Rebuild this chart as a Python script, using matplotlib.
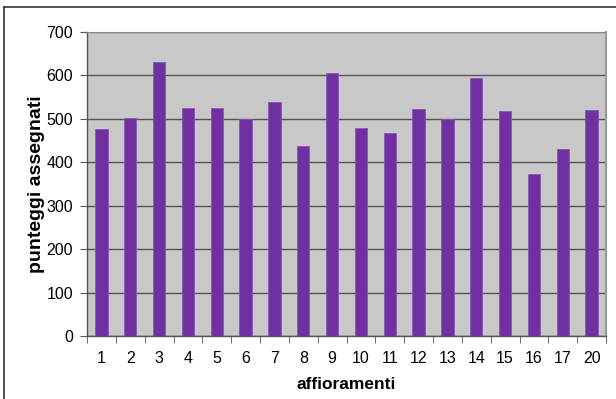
import matplotlib
matplotlib.use("Agg")
import matplotlib.pyplot as plt
import numpy as np
from matplotlib.lines import Line2D

categories = ["1", "2", "3", "4", "5", "6", "7", "8", "9", "10",
              "11", "12", "13", "14", "15", "16", "17", "20"]
values = [476, 502, 632, 524, 525, 500, 538, 438, 605,
          478, 467, 522, 500, 594, 518, 372, 431, 521]
yticks = [0, 100, 200, 300, 400, 500, 600, 700]

plt.rcParams['font.family'] = ['Liberation Sans', 'DejaVu Sans']

fig = plt.figure(figsize=(6.16, 3.99), dpi=100)
fig.patch.set_facecolor("white")

# outer frame lines (left and top)
fig.add_artist(Line2D([4/616, 4/616], [0, 1 - 7/399], transform=fig.transFigure,
                      color="#333333", lw=1.2))
fig.add_artist(Line2D([4/616, 1], [1 - 7/399, 1 - 7/399], transform=fig.transFigure,
                      color="#333333", lw=1.2))

ax = fig.add_axes([87/616, 1 - 336/399, (606 - 87)/616, (336 - 32)/399])
ax.set_facecolor("#C8C8C8")

x = np.arange(len(categories))
ax.bar(x, values, width=0.43, color="#7030A0", edgecolor="#8a55b5", linewidth=0.6, zorder=3)

ax.set_xlim(-0.5, len(categories) - 0.5)
ax.set_ylim(0, 700)
ax.set_yticks(yticks)
ax.set_yticklabels([str(v) for v in yticks], fontsize=11.5)
ax.yaxis.grid(True, color="#555555", linewidth=1.0, zorder=1)
ax.set_axisbelow(True)

ax.set_xticks(x)
ax.set_xticklabels(categories, fontsize=11.5)
ax.tick_params(axis="x", which="major", length=0, pad=11)
ax.set_xticks(np.arange(-0.5, len(categories), 1.0), minor=True)
ax.tick_params(axis="x", which="minor", length=5, direction="out", color="#555555")
ax.tick_params(axis="y", length=5, direction="out", color="#555555", pad=5)

for side in ["left", "bottom"]:
    ax.spines[side].set_color("#555555")
    ax.spines[side].set_linewidth(1.0)
ax.spines["top"].set_color("#888888")
ax.spines["right"].set_color("#999999")
ax.spines["right"].set_linewidth(1.5)

ax.set_xlabel("affioramenti", fontsize=12.5, fontweight="bold", labelpad=8)
ax.set_ylabel("punteggi assegnati", fontsize=14, fontweight="bold", labelpad=1)

fig.savefig("out.png", dpi=100)
